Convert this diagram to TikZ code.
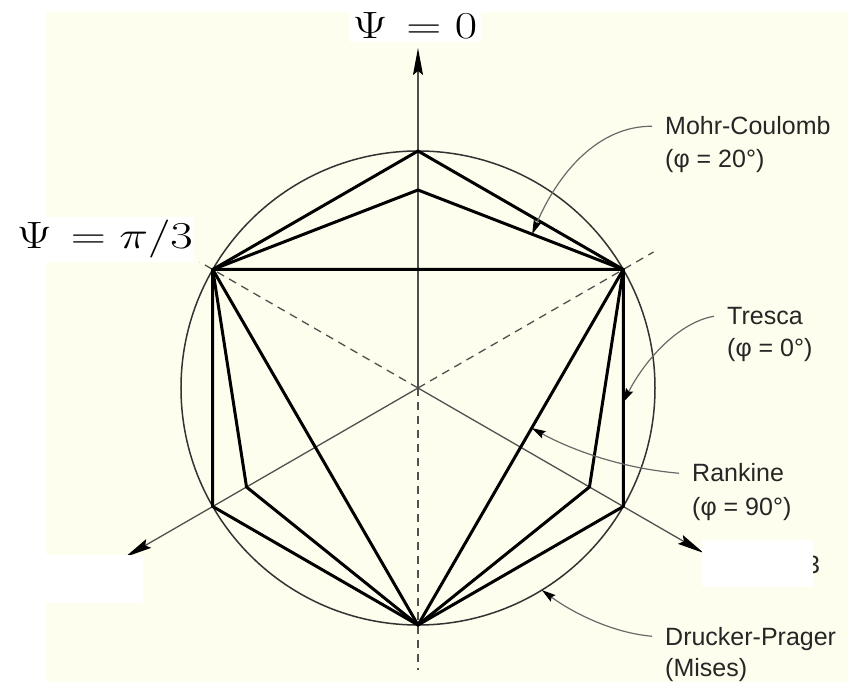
\RequirePackage{fix-cm}
\documentclass[tikz,border=0pt]{standalone}
\usepackage{fontspec}
\newfontfamily\helv{Liberation Sans}
\usetikzlibrary{arrows.meta,calc,positioning}
\definecolor{paper}{RGB}{254,254,238}
\definecolor{axisgray}{RGB}{80,80,80}
\definecolor{leadgray}{RGB}{105,105,105}

\begin{document}
\begin{tikzpicture}[x=1pt,y=1pt,
  axisline/.style={axisgray,line width=1.3pt},
  dashline/.style={axisgray,line width=1.3pt,dash pattern=on 8pt off 6pt},
  yieldline/.style={black,line width=3pt,line join=round},
  leader/.style={leadgray,line width=1.2pt,-{Stealth[length=14pt,width=8pt,inset=2pt,color=black]}},
  crit/.style={font=\helv\fontsize{25}{30}\selectfont,text=black!85,inner sep=0pt,text height=17.5pt,text depth=0pt,anchor=base west},
  psilbl/.style={font=\fontsize{38}{40}\selectfont,fill=white,inner sep=0pt}]
\useasboundingbox (-418,-294) rectangle (430,388);
% paper
\fill[paper] (-372,376) rectangle (430,-294);
% deviatoric plane: centre, corners of the sections
\coordinate (O) at (0,0);
\foreach \ang/\nm in {90/t1,30/t2,-30/t3,-90/t4,-150/t5,150/t6} {\coordinate (\nm) at (\ang:237);}
\foreach \ang/\nm in {90/m1,-30/m3,-150/m5} {\coordinate (\nm) at (\ang:198);}
% Drucker-Prager circle
\draw[black!80,line width=1.5pt] (O) circle (237);
% principal stress axes
\coordinate (ax1) at (90:340);
\coordinate (ax2) at (-150:338);
\coordinate (ax3) at (-30:330);
\foreach \ax in {ax1,ax2,ax3} {\draw[axisline,-{Stealth[length=27pt,width=10pt,inset=4pt,color=black]}] (O) -- (\ax);}
\coordinate (dz1) at (150:252);
\coordinate (dz2) at (30:272);
\coordinate (dz3) at (-90:282);
\foreach \dz in {dz1,dz2,dz3} {\draw[dashline] (O) -- (\dz);}
% Tresca, Mohr-Coulomb, Rankine
\draw[yieldline] (t1) -- (t2) -- (t3) -- (t4) -- (t5) -- (t6) -- cycle;
\draw[yieldline] (m1) -- (t2) -- (m3) -- (t4) -- (m5) -- (t6) -- cycle;
\draw[yieldline] (t2) -- (t4) -- (t6) -- cycle;
% labels
\node[crit] (mcLbl) at (247,253) {Mohr-Coulomb};
\node[crit] (mcSub) at ([yshift=-33pt]mcLbl.base west) {(φ = 20°)};
\node[crit] (trLbl) at (309,63) {Tresca};
\node[crit] (trSub) at ([yshift=-32pt]trLbl.base west) {(φ = 0°)};
\node[crit] (rkLbl) at (274,-94) {Rankine};
\node[crit] (rkSub) at ([yshift=-33pt]rkLbl.base west) {(φ = 90°)};
\node[crit] (dpLbl) at (247,-257) {Drucker-Prager};
\node[crit] (dpSub) at ([yshift=-31pt]dpLbl.base west) {(Mises)};
% leaders
\coordinate (mcTip) at ($(m1)!0.556!(t2)$);
\coordinate (trTip) at ($(t2)!0.56!(t3)$);
\coordinate (rkTip) at ($(t2)!0.446!(t4)$);
\coordinate (dpTip) at (-58.5:237);
\draw[leader] ([xshift=-13pt]mcLbl.west) .. controls (180,262) and (140,215) .. (mcTip);
\draw[leader] ([xshift=-13pt]trLbl.west) .. controls (262,66) and (228,30) .. (trTip);
\draw[leader] ([xshift=-13pt]rkLbl.west) .. controls (200,-80) and (150,-60) .. (rkTip);
\draw[leader] ([xshift=-13pt]dpLbl.west) .. controls (195,-245) and (155,-225) .. (dpTip);
% masked axis names
\fill[white] (-372,-167) rectangle (-275,-215);
\node[crit] (s3) at (388,-185) {3};
\fill[white] (284,-152) rectangle (395,-199);
\node[psilbl,minimum width=132pt,minimum height=32pt] (psiTop) at (-3,362) {\scalebox{1.28}[1]{$\Psi\mkern2mu = 0$}};
\node[psilbl,anchor=east,minimum height=45pt] (psiLeft) at (-225,148.5) {\scalebox{1.28}[1]{$\Psi\mkern2mu = \pi/3$}};
\end{tikzpicture}
\end{document}
